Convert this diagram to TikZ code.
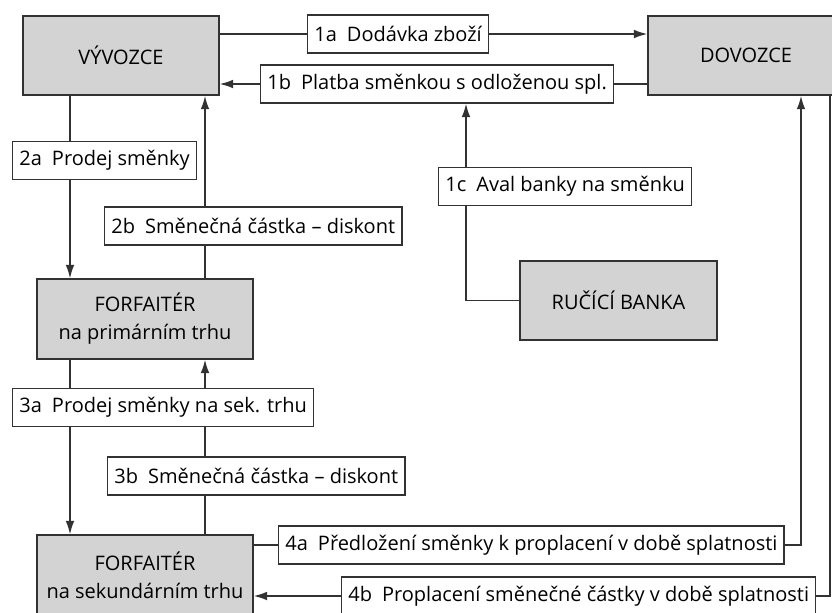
\documentclass[tikz,border=0pt]{standalone}
\usepackage{fontspec}
\setmainfont{Open Sans}
\usetikzlibrary{positioning, arrows.meta}
\definecolor{boxgray}{RGB}{211,211,211}
\definecolor{linegray}{RGB}{50,50,50}
\newcommand{\krok}[2]{#1\hspace{0.5em}#2}

\begin{document}
\begin{tikzpicture}
	[x=0.75pt, y=-0.75pt, font=\fontsize{15}{21}\selectfont, line width=1.1pt,
	 draw=linegray, text=black,
	 party/.style={draw=linegray, fill=boxgray, align=center, minimum width=147pt, minimum height=59.5pt, inner sep=0pt},
	 flow/.style={draw=linegray, fill=white, anchor=west, minimum height=28.5pt, inner xsep=5pt, inner ysep=0pt},
	 >={Latex[length=10pt,width=6.5pt]}]
   \useasboundingbox (0,0) rectangle (832,612);
   % parties
   \node[party] (exp) at (121,55.5) {VÝVOZCE};
   \node[party] (imp) at (746,55.5) {DOVOZCE};
   \node[party, minimum width=162pt, minimum height=60pt] (fprim) at (145,319) {FORFAITÉR\\na primárním trhu};
   \node[party, minimum width=162pt, minimum height=60pt] (fsek) at (145,575) {FORFAITÉR\\na sekundárním trhu};
   \node[party, minimum width=148pt] (bank) at (618.5,300.5) {RUČÍCÍ BANKA};
   % steps
   \node[flow] (s1a) at (307,34) {\krok{1a}{Dodávka zboží}};
   \node[flow] (s1b) at (260,84) {\krok{1b}{Platba směnkou s odloženou spl.}};
   \node[flow] (s1c) at (438,186.5) {\krok{1c}{Aval banky na směnku}};
   \node[flow] (s2a) at (12,160.5) {\krok{2a}{Prodej směnky}};
   \node[flow] (s2b) at (104,226) {\krok{2b}{Směnečná částka – diskont}};
   \node[flow] (s3a) at (12,407.5) {\krok{3a}{Prodej směnky na sek. trhu}};
   \node[flow] (s3b) at (107,476) {\krok{3b}{Směnečná částka – diskont}};
   \node[flow] (s4a) at (278,545) {\krok{4a}{Předložení směnky k proplacení v době splatnosti}};
   \node[flow] (s4b) at (341,596) {\krok{4b}{Proplacení směnečné částky v době splatnosti}};
   \coordinate (xl) at (70,0);
   \coordinate (xr) at (205,0);
   \coordinate (x1c) at (466,0);
   \coordinate (x4a) at (801,0);
   \coordinate (x4b) at (830,0);
   % flows
   \draw (s1a.west -| exp.east) -- (s1a.west);
   \draw[->] (s1a.east) -- (s1a.east -| imp.west);
   \draw (s1b.east -| imp.west) -- (s1b.east);
   \draw[->] (s1b.west) -- (s1b.west -| exp.east);
   \draw (bank.west) -| (x1c |- s1c.south);
   \draw[->] (x1c |- s1c.north) -- (x1c |- s1b.south);
   \draw (xl |- exp.south) -- (xl |- s2a.north);
   \draw[->] (xl |- s2a.south) -- (xl |- fprim.north);
   \draw (xr |- fprim.north) -- (xr |- s2b.south);
   \draw[->] (xr |- s2b.north) -- (xr |- exp.south);
   \draw (xl |- fprim.south) -- (xl |- s3a.north);
   \draw[->] (xl |- s3a.south) -- (xl |- fsek.north);
   \draw (xr |- fsek.north) -- (xr |- s3b.south);
   \draw (xr |- s3b.north) -- (xr |- s3a.south);
   \draw[->] (xr |- s3a.north) -- (xr |- fprim.south);
   \draw (s4a.west -| fsek.east) -- (s4a.west);
   \draw[->] (s4a.east) -| (x4a |- imp.south);
   \draw (x4b |- imp.south) |- (s4b.east);
   \draw[->] (s4b.west) -- (s4b.west -| fsek.east);
\end{tikzpicture}
\end{document}
